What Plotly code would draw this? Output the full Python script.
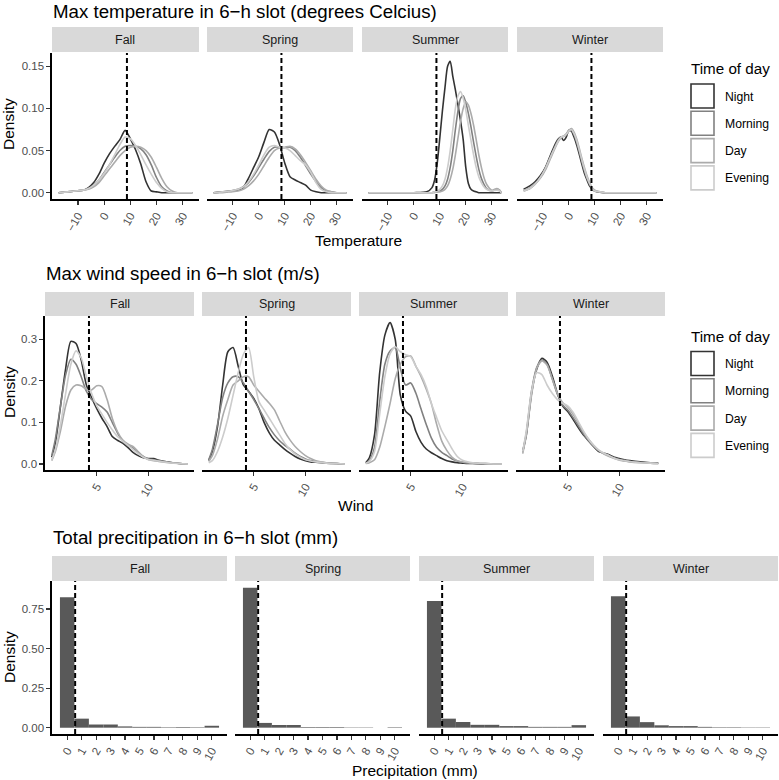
import plotly.graph_objects as go

# ---------------- data ----------------
SEASONS = ["Fall", "Spring", "Summer", "Winter"]
TIMES = ["Night", "Morning", "Day", "Evening"]
TIME_COLORS = ["#333333", "#818181", "#ABABAB", "#CCCCCC"]

# Temperature densities (x grids per season)
TEMP_X_FALL = [-17.4, -14, -11, -8, -6, -4, -2, 0, 2, 4, 6, 8, 10, 12, 14, 16, 18, 20, 22, 24, 26, 28, 30, 33.7]
TEMP_FALL = {
    "Night":   [0, 0.001, 0.002, 0.003, 0.006, 0.012, 0.022, 0.035, 0.046, 0.055, 0.063, 0.074, 0.064, 0.051, 0.034, 0.013, 0.002, 0.001, 0, 0, 0, 0, 0, 0],
    "Morning": [0, 0.001, 0.002, 0.003, 0.005, 0.009, 0.015, 0.024, 0.033, 0.042, 0.050, 0.055, 0.056, 0.055, 0.052, 0.045, 0.033, 0.018, 0.007, 0.002, 0, 0, 0, 0],
    "Day":     [0, 0.001, 0.002, 0.003, 0.004, 0.007, 0.012, 0.020, 0.028, 0.036, 0.044, 0.050, 0.054, 0.055, 0.054, 0.050, 0.042, 0.030, 0.017, 0.007, 0.002, 0, 0, 0],
    "Evening": [0, 0.001, 0.002, 0.003, 0.005, 0.009, 0.015, 0.023, 0.033, 0.045, 0.057, 0.066, 0.064, 0.056, 0.045, 0.033, 0.022, 0.012, 0.005, 0.001, 0, 0, 0, 0],
}
TEMP_X_SPRING = [-17.4, -14, -11, -8, -6, -4, -2, 0, 2, 4, 6, 8, 10, 12, 14, 16, 18, 20, 22, 24, 26, 28, 30, 33.7]
TEMP_SPRING = {
    "Night":   [0, 0.001, 0.002, 0.003, 0.006, 0.017, 0.030, 0.043, 0.060, 0.075, 0.072, 0.057, 0.035, 0.019, 0.015, 0.012, 0.009, 0.003, 0.001, 0, 0, 0, 0, 0],
    "Morning": [0, 0.001, 0.002, 0.004, 0.007, 0.012, 0.020, 0.030, 0.040, 0.049, 0.054, 0.054, 0.053, 0.054, 0.050, 0.042, 0.032, 0.022, 0.013, 0.006, 0.002, 0.001, 0, 0],
    "Day":     [0, 0, 0.001, 0.002, 0.004, 0.008, 0.014, 0.022, 0.032, 0.042, 0.050, 0.053, 0.054, 0.055, 0.052, 0.045, 0.036, 0.026, 0.016, 0.008, 0.003, 0.001, 0, 0],
    "Evening": [0, 0.001, 0.002, 0.004, 0.007, 0.013, 0.022, 0.033, 0.045, 0.054, 0.056, 0.054, 0.053, 0.050, 0.044, 0.038, 0.033, 0.024, 0.012, 0.004, 0.001, 0, 0, 0],
}
TEMP_X_SUMMER = [-17.4, -5, 0, 5, 7, 8, 9, 10, 11, 12, 13, 14, 15, 16, 17, 18, 19, 20, 21, 22, 23, 24, 25, 26, 27, 28, 30, 32, 33, 33.7]
TEMP_SUMMER = {
    "Night":   [0, 0, 0, 0.001, 0.006, 0.015, 0.035, 0.065, 0.097, 0.125, 0.150, 0.156, 0.138, 0.122, 0.104, 0.085, 0.063, 0.030, 0.011, 0.004, 0.002, 0.001, 0, 0, 0, 0, 0, 0, 0, 0],
    "Morning": [0, 0, 0, 0, 0, 0.001, 0.001, 0.002, 0.004, 0.008, 0.016, 0.030, 0.050, 0.075, 0.097, 0.112, 0.115, 0.107, 0.094, 0.078, 0.060, 0.043, 0.028, 0.017, 0.010, 0.005, 0.002, 0.004, 0.003, 0],
    "Day":     [0, 0, 0, 0, 0, 0, 0.001, 0.001, 0.002, 0.004, 0.008, 0.016, 0.028, 0.045, 0.065, 0.085, 0.100, 0.108, 0.104, 0.094, 0.080, 0.063, 0.045, 0.030, 0.018, 0.010, 0.003, 0.005, 0.003, 0],
    "Evening": [0, 0, 0, 0, 0, 0.001, 0.002, 0.004, 0.008, 0.016, 0.030, 0.050, 0.075, 0.100, 0.115, 0.120, 0.112, 0.098, 0.080, 0.062, 0.045, 0.030, 0.019, 0.012, 0.007, 0.004, 0.002, 0.003, 0.002, 0],
}
TEMP_X_WINTER = [-17.4, -15, -13, -11, -9, -7, -5, -4, -3, -2, -1, 0, 1, 2, 3, 4, 5, 6, 7, 8, 9, 10, 12, 14, 20, 33.7]
TEMP_WINTER = {
    "Night":   [0.004, 0.008, 0.013, 0.020, 0.030, 0.045, 0.059, 0.064, 0.066, 0.062, 0.066, 0.074, 0.073, 0.066, 0.057, 0.046, 0.034, 0.023, 0.015, 0.008, 0.004, 0.002, 0.0005, 0, 0, 0],
    "Morning": [0.002, 0.005, 0.010, 0.018, 0.029, 0.043, 0.057, 0.063, 0.066, 0.067, 0.069, 0.073, 0.074, 0.069, 0.060, 0.049, 0.037, 0.026, 0.017, 0.010, 0.005, 0.002, 0.0005, 0, 0, 0],
    "Day":     [0.003, 0.006, 0.011, 0.017, 0.027, 0.041, 0.055, 0.061, 0.065, 0.067, 0.070, 0.074, 0.076, 0.072, 0.064, 0.053, 0.041, 0.030, 0.020, 0.012, 0.006, 0.003, 0.001, 0, 0, 0],
    "Evening": [0.002, 0.005, 0.010, 0.018, 0.029, 0.043, 0.056, 0.062, 0.066, 0.067, 0.069, 0.073, 0.075, 0.070, 0.062, 0.051, 0.039, 0.028, 0.018, 0.011, 0.005, 0.002, 0.001, 0, 0, 0],
}

# Wind densities (shared grid)
WIND_X = [0.65, 1.0, 1.5, 2.0, 2.5, 3.0, 3.5, 4.0, 4.5, 5.0, 5.5, 6.0, 6.5, 7.0, 7.5, 8.0, 8.5, 9.0, 9.5, 10.0, 10.5, 11, 12, 13, 13.75]
WIND_FALL = {
    "Night":   [0.016, 0.050, 0.140, 0.230, 0.295, 0.290, 0.250, 0.190, 0.160, 0.133, 0.110, 0.090, 0.066, 0.057, 0.050, 0.040, 0.028, 0.020, 0.015, 0.013, 0.013, 0.009, 0.004, 0.001, 0],
    "Morning": [0.020, 0.060, 0.140, 0.215, 0.252, 0.240, 0.210, 0.175, 0.155, 0.145, 0.137, 0.125, 0.100, 0.075, 0.055, 0.045, 0.038, 0.028, 0.018, 0.012, 0.010, 0.008, 0.004, 0.001, 0],
    "Day":     [0.008, 0.030, 0.080, 0.140, 0.178, 0.190, 0.188, 0.180, 0.178, 0.188, 0.186, 0.155, 0.110, 0.078, 0.058, 0.048, 0.042, 0.030, 0.018, 0.010, 0.008, 0.006, 0.003, 0.001, 0],
    "Evening": [0.010, 0.035, 0.095, 0.170, 0.240, 0.272, 0.255, 0.210, 0.170, 0.140, 0.120, 0.100, 0.082, 0.066, 0.055, 0.045, 0.035, 0.025, 0.016, 0.011, 0.009, 0.007, 0.003, 0.001, 0],
}
WIND_SPRING = {
    "Night":   [0.008, 0.030, 0.090, 0.190, 0.270, 0.280, 0.235, 0.190, 0.175, 0.158, 0.133, 0.100, 0.075, 0.057, 0.046, 0.035, 0.026, 0.018, 0.012, 0.008, 0.005, 0.004, 0.002, 0.001, 0],
    "Morning": [0.010, 0.035, 0.095, 0.160, 0.195, 0.210, 0.210, 0.195, 0.175, 0.155, 0.133, 0.110, 0.088, 0.070, 0.056, 0.045, 0.036, 0.026, 0.018, 0.012, 0.008, 0.006, 0.003, 0.001, 0],
    "Day":     [0.006, 0.020, 0.060, 0.115, 0.155, 0.190, 0.200, 0.210, 0.210, 0.190, 0.175, 0.160, 0.146, 0.130, 0.104, 0.078, 0.058, 0.042, 0.030, 0.020, 0.013, 0.008, 0.003, 0.001, 0],
    "Evening": [0.003, 0.008, 0.030, 0.065, 0.110, 0.165, 0.220, 0.264, 0.280, 0.210, 0.150, 0.130, 0.110, 0.090, 0.070, 0.050, 0.035, 0.024, 0.016, 0.010, 0.007, 0.005, 0.002, 0.001, 0],
}
WIND_SUMMER = {
    "Night":   [0.003, 0.015, 0.070, 0.220, 0.310, 0.340, 0.300, 0.165, 0.127, 0.115, 0.078, 0.052, 0.036, 0.027, 0.020, 0.013, 0.008, 0.005, 0.003, 0.002, 0.001, 0.001, 0, 0, 0],
    "Morning": [0.002, 0.008, 0.040, 0.150, 0.240, 0.272, 0.280, 0.230, 0.190, 0.195, 0.170, 0.132, 0.095, 0.062, 0.040, 0.028, 0.020, 0.012, 0.007, 0.004, 0.003, 0.002, 0.001, 0, 0],
    "Day":     [0.001, 0.003, 0.010, 0.040, 0.090, 0.145, 0.205, 0.240, 0.258, 0.260, 0.235, 0.210, 0.180, 0.145, 0.096, 0.055, 0.032, 0.016, 0.008, 0.005, 0.003, 0.002, 0.001, 0, 0],
    "Evening": [0.002, 0.006, 0.030, 0.120, 0.210, 0.265, 0.282, 0.270, 0.263, 0.258, 0.235, 0.215, 0.186, 0.145, 0.112, 0.080, 0.058, 0.036, 0.018, 0.009, 0.005, 0.003, 0.001, 0, 0],
}
WIND_WINTER = {
    "Night":   [0.030, 0.070, 0.170, 0.228, 0.254, 0.245, 0.212, 0.170, 0.140, 0.126, 0.108, 0.088, 0.070, 0.056, 0.042, 0.030, 0.026, 0.022, 0.016, 0.013, 0.010, 0.008, 0.005, 0.003, 0.002],
    "Morning": [0.030, 0.075, 0.175, 0.232, 0.250, 0.240, 0.205, 0.168, 0.142, 0.130, 0.112, 0.093, 0.073, 0.056, 0.042, 0.032, 0.025, 0.020, 0.015, 0.011, 0.008, 0.006, 0.004, 0.002, 0.001],
    "Day":     [0.025, 0.070, 0.165, 0.230, 0.248, 0.238, 0.205, 0.170, 0.148, 0.137, 0.120, 0.100, 0.078, 0.060, 0.045, 0.033, 0.024, 0.018, 0.013, 0.009, 0.007, 0.005, 0.003, 0.002, 0.001],
    "Evening": [0.030, 0.080, 0.175, 0.220, 0.215, 0.190, 0.170, 0.155, 0.146, 0.140, 0.125, 0.103, 0.080, 0.060, 0.045, 0.033, 0.026, 0.020, 0.014, 0.010, 0.008, 0.006, 0.003, 0.002, 0.001],
}

# Precipitation histograms (density per 1-mm bin)
PRECIP_BINS = [0, 1, 2, 3, 4, 5, 6, 7, 8, 9, 10]
PRECIP_FALL = [0.824, 0.057, 0.020, 0.020, 0.008, 0.005, 0.005, 0.003, 0.004, 0.003, 0.012]
PRECIP_SPRING = [0.885, 0.030, 0.017, 0.017, 0.004, 0.004, 0.004, 0.002, 0.002, 0.0, 0.003]
PRECIP_SUMMER = [0.800, 0.057, 0.036, 0.018, 0.018, 0.010, 0.010, 0.005, 0.005, 0.005, 0.016]
PRECIP_WINTER = [0.830, 0.071, 0.035, 0.015, 0.010, 0.010, 0.005, 0.003, 0.003, 0.002, 0.002]

# Reference (dashed) lines
TEMP_CUTOFF = 8.7
WIND_CUTOFF = 4.25
PRECIP_CUTOFF = 0.55

TEMP_XTICKS = [-10, 0, 10, 20, 30]
TEMP_XTICKTEXT = ["\u221210", "0", "10", "20", "30"]
WIND_XTICKS = [5, 10]
PRECIP_XTICKS = PRECIP_BINS
TEMP_YTICKS = [0, 0.05, 0.10, 0.15]
TEMP_YTICKTEXT = ["0.00", "0.05", "0.10", "0.15"]
WIND_YTICKS = [0, 0.1, 0.2, 0.3]
WIND_YTICKTEXT = ["0.0", "0.1", "0.2", "0.3"]
PRECIP_YTICKS = [0, 0.25, 0.5, 0.75]
PRECIP_YTICKTEXT = ["0.00", "0.25", "0.50", "0.75"]

# ---------------- layout helpers ----------------
W, H = 779, 780
FONT = "Liberation Sans, Arial, sans-serif"


def fx(px):
    return px / W


def fy(py):
    return 1 - py / H


ROWS = [
    dict(panels=[(52, 199), (207, 353), (362, 508), (517, 663)], top=53, bottom=199, strip=(27, 52),
         xrange=[-19.95, 36.25], yrange=[-0.0075, 0.1658],
         xt=TEMP_XTICKS, xtt=TEMP_XTICKTEXT, yt=TEMP_YTICKS, ytt=TEMP_YTICKTEXT,
         title="Max temperature in 6\u2212h slot (degrees Celcius)", title_xy=(51, 12),
         xlabel="Temperature", xlabel_xy=(358, 240), ylabel_y=124, cutoff=TEMP_CUTOFF),
    dict(panels=[(45, 194), (202, 351), (359, 508), (516, 665)], top=316, bottom=470, strip=(292, 316),
         xrange=[0.0, 14.4], yrange=[-0.0145, 0.356],
         xt=WIND_XTICKS, xtt=[str(v) for v in WIND_XTICKS], yt=WIND_YTICKS, ytt=WIND_YTICKTEXT,
         title="Max wind speed in 6\u2212h slot (m/s)", title_xy=(44, 273),
         xlabel="Wind", xlabel_xy=(355, 505), ylabel_y=392, cutoff=WIND_CUTOFF),
    dict(panels=[(52, 227), (235, 410), (419, 594), (603, 778)], top=581, bottom=734, strip=(556, 581),
         xrange=[-1.05, 11.05], yrange=[-0.04, 0.927],
         xt=PRECIP_XTICKS, xtt=[str(v) for v in PRECIP_XTICKS], yt=PRECIP_YTICKS, ytt=PRECIP_YTICKTEXT,
         title="Total precitipation in 6\u2212h slot (mm)", title_xy=(51, 537),
         xlabel="Precipitation (mm)", xlabel_xy=(415, 770), ylabel_y=657, cutoff=PRECIP_CUTOFF),
]

TEMP_DATA = [(TEMP_X_FALL, TEMP_FALL), (TEMP_X_SPRING, TEMP_SPRING), (TEMP_X_SUMMER, TEMP_SUMMER), (TEMP_X_WINTER, TEMP_WINTER)]
WIND_DATA = [WIND_FALL, WIND_SPRING, WIND_SUMMER, WIND_WINTER]
PRECIP_DATA = [PRECIP_FALL, PRECIP_SPRING, PRECIP_SUMMER, PRECIP_WINTER]

fig = go.Figure()
layout = dict(width=W, height=H, autosize=False, margin=dict(l=0, r=0, t=0, b=0),
              paper_bgcolor="white", plot_bgcolor="white", showlegend=False,
              font=dict(family=FONT, color="#000000"))
shapes = []
annotations = []

idx = 0
for r, row in enumerate(ROWS):
    for c, (l, rr) in enumerate(row["panels"]):
        idx += 1
        xa = "x" if idx == 1 else f"x{idx}"
        ya = "y" if idx == 1 else f"y{idx}"
        xkey = "xaxis" if idx == 1 else f"xaxis{idx}"
        ykey = "yaxis" if idx == 1 else f"yaxis{idx}"
        layout[xkey] = dict(domain=[fx(l), fx(rr)], anchor=ya, range=row["xrange"],
                            tickmode="array", tickvals=row["xt"], ticktext=row["xtt"],
                            tickangle=-60, showgrid=False, zeroline=False,
                            showline=True, linecolor="#000000", linewidth=1.6,
                            ticks="outside", ticklen=4, tickwidth=1.2, tickcolor="#333333",
                            tickfont=dict(size=11.5, color="#4D4D4D", family=FONT), fixedrange=True)
        first = c == 0
        layout[ykey] = dict(domain=[fy(row["bottom"]), fy(row["top"])], anchor=xa, range=row["yrange"],
                            tickmode="array", tickvals=row["yt"], ticktext=row["ytt"],
                            showgrid=False, zeroline=False, showline=first, linecolor="#000000",
                            linewidth=1.6, ticks="outside" if first else "", ticklen=4, tickwidth=1.2,
                            tickcolor="#333333", showticklabels=first,
                            tickfont=dict(size=11.5, color="#4D4D4D", family=FONT), fixedrange=True)
        # data
        if r == 0:
            xs, series = TEMP_DATA[c]
            for t, col in zip(TIMES, TIME_COLORS):
                fig.add_trace(go.Scatter(x=xs, y=series[t], mode="lines", xaxis=xa, yaxis=ya,
                                         line=dict(color=col, width=1.6, shape="spline", smoothing=0.7),
                                         name=t, hoverinfo="skip"))
        elif r == 1:
            series = WIND_DATA[c]
            for t, col in zip(TIMES, TIME_COLORS):
                fig.add_trace(go.Scatter(x=WIND_X, y=series[t], mode="lines", xaxis=xa, yaxis=ya,
                                         line=dict(color=col, width=1.6, shape="spline", smoothing=0.7),
                                         name=t, hoverinfo="skip"))
        else:
            fig.add_trace(go.Bar(x=PRECIP_BINS, y=PRECIP_DATA[c], width=1.0, xaxis=xa, yaxis=ya,
                                 marker=dict(color="#595959", line=dict(width=0)), hoverinfo="skip"))
        # dashed cutoff
        shapes.append(dict(type="line", xref=xa, yref=f"{ya} domain", x0=row["cutoff"], x1=row["cutoff"],
                           y0=0, y1=1, line=dict(color="#000000", width=2, dash="5px,3px"), layer="above"))
        # strip
        s0, s1 = row["strip"]
        shapes.append(dict(type="rect", xref="paper", yref="paper", x0=fx(l), x1=fx(rr),
                           y0=fy(s1), y1=fy(s0), fillcolor="#D9D9D9", line=dict(width=0), layer="below"))
        annotations.append(dict(text=SEASONS[c], xref="paper", yref="paper", x=fx((l + rr) / 2),
                                y=fy((s0 + s1) / 2), showarrow=False, xanchor="center", yanchor="middle",
                                font=dict(size=12.5, color="#1A1A1A", family=FONT)))
    # titles
    tx, ty = row["title_xy"]
    annotations.append(dict(text=row["title"], xref="paper", yref="paper", x=fx(tx), y=fy(ty),
                            showarrow=False, xanchor="left", yanchor="middle",
                            font=dict(size=18.7, color="#000000", family=FONT)))
    lx, ly = row["xlabel_xy"]
    annotations.append(dict(text=row["xlabel"], xref="paper", yref="paper", x=fx(lx), y=fy(ly),
                            showarrow=False, xanchor="center", yanchor="middle",
                            font=dict(size=15.5, color="#000000", family=FONT)))
    annotations.append(dict(text="Density", xref="paper", yref="paper", x=fx(9), y=fy(row["ylabel_y"]),
                            showarrow=False, xanchor="center", yanchor="middle", textangle=-90,
                            font=dict(size=15.5, color="#000000", family=FONT)))

# manual legends (ggplot-style outlined keys) for the two density rows
for title_y, key_top in [(68, 83.5), (336, 351)]:
    annotations.append(dict(text="Time of day", xref="paper", yref="paper", x=fx(689), y=fy(title_y),
                            showarrow=False, xanchor="left", yanchor="middle",
                            font=dict(size=15.2, color="#000000", family=FONT)))
    for i, (t, col) in enumerate(zip(TIMES, TIME_COLORS)):
        top = key_top + i * 27.3
        shapes.append(dict(type="rect", xref="paper", yref="paper", x0=fx(691), x1=fx(714),
                           y0=fy(top + 24.5), y1=fy(top + 0.5), fillcolor="white",
                           line=dict(color=col, width=1.6)))
        annotations.append(dict(text=t, xref="paper", yref="paper", x=fx(723), y=fy(top + 13),
                                showarrow=False, xanchor="left", yanchor="middle",
                                font=dict(size=12.2, color="#000000", family=FONT)))

layout["shapes"] = shapes
layout["annotations"] = annotations
fig.update_layout(**layout)
fig.write_html("out.html", config={"displayModeBar": False, "staticPlot": True},
               post_script="document.body.style.margin='0';document.body.style.padding='0';"
                           "document.body.style.overflow='hidden';")
